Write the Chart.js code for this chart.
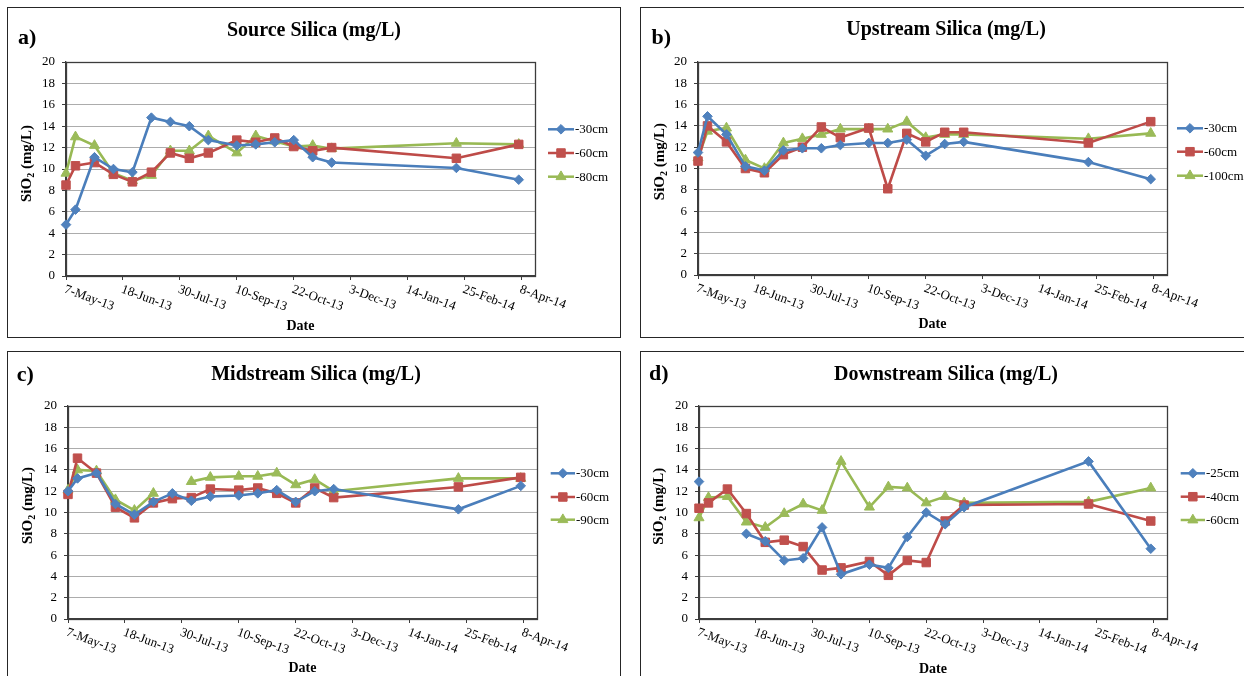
<!DOCTYPE html>
<html>
<head>
<meta charset="utf-8">
<script src="https://cdn.jsdelivr.net/npm/chart.js@4.4.1/dist/chart.umd.min.js"></script>
<style>
html,body{margin:0;padding:0;background:#fff;width:1244px;height:676px;overflow:hidden;}
.panel{position:absolute;}
canvas{display:block;}
</style>
</head>
<body>
<div class="panel" style="left:7px;top:7px;"><canvas id="cA" width="614" height="331"></canvas></div>
<div class="panel" style="left:640px;top:7px;"><canvas id="cB" width="606" height="331"></canvas></div>
<div class="panel" style="left:7px;top:351px;"><canvas id="cC" width="614" height="330"></canvas></div>
<div class="panel" style="left:640px;top:351px;"><canvas id="cD" width="606" height="330"></canvas></div>
<script>
// ---------- data ----------
const sampleDates = ['2013-05-07','2013-05-14','2013-05-28','2013-06-11','2013-06-25','2013-07-09','2013-07-23',
  '2013-08-06','2013-08-20','2013-09-10','2013-09-24','2013-10-08','2013-10-22','2013-11-05','2013-11-19',
  '2014-02-19','2014-04-06'];
const axisStartDate = '2013-05-07';
const axisEndDate = '2014-04-18';
const tickDates = ['2013-05-07','2013-06-18','2013-07-30','2013-09-10','2013-10-22','2013-12-03','2014-01-14','2014-02-25','2014-04-08'];
const tickLabels = ['7-May-13','18-Jun-13','30-Jul-13','10-Sep-13','22-Oct-13','3-Dec-13','14-Jan-14','25-Feb-14','8-Apr-14'];
const yMin = 0, yMax = 20, yStep = 2;

const sourceLabels = ['-30cm','-60cm','-80cm'];
const source30 = [4.8, 6.2, 11.1, 10.0, 9.7, 14.8, 14.4, 14.0, 12.7, 12.2, 12.3, 12.5, 12.7, 11.1, 10.6, 10.1, 9.0];
const source60 = [8.5, 10.3, 10.6, 9.5, 8.8, 9.7, 11.5, 11.0, 11.5, 12.7, 12.5, 12.9, 12.1, 11.7, 12.0, 11.0, 12.3];
const source80 = [9.6, 13.0, 12.2, 9.6, 8.9, 9.4, 11.7, 11.7, 13.1, 11.5, 13.1, 12.6, 12.1, 12.2, 11.9, 12.4, 12.3];

const upLabels = ['-30cm','-60cm','-100cm'];
const up30  = [11.5, 14.9, 13.2, 10.2, 9.8, 11.7, 11.9, 11.9, 12.2, 12.4, 12.4, 12.7, 11.2, 12.3, 12.5, 10.6, 9.0];
const up60  = [10.7, 14.0, 12.5, 10.0, 9.6, 11.3, 12.0, 13.9, 12.9, 13.8, 8.1, 13.3, 12.5, 13.4, 13.4, 12.4, 14.4];
const up100 = [11.0, 13.5, 13.8, 10.8, 10.0, 12.4, 12.8, 13.2, 13.7, 13.7, 13.7, 14.4, 12.9, 13.2, 13.2, 12.8, 13.3];

const midLabels = ['-30cm','-60cm','-90cm'];
const mid30 = [12.0, 13.2, 13.7, 10.8, 9.8, 11.0, 11.8, 11.1, 11.5, 11.6, 11.8, 12.1, 11.0, 12.0, 12.2, 10.3, 12.5];
const mid60 = [11.7, 15.1, 13.7, 10.5, 9.5, 10.9, 11.3, 11.4, 12.2, 12.1, 12.3, 11.8, 10.9, 12.3, 11.4, 12.4, 13.3];
const mid90 = [12.1, 14.0, 13.9, 11.2, 10.2, 11.8, null, 12.9, 13.3, 13.4, 13.4, 13.7, 12.6, 13.1, 12.0, 13.2, 13.2];

const downLabels = ['-25cm','-40cm','-60cm'];
const down25 = [12.9, null, null, 8.0, 7.3, 5.5, 5.7, 8.6, 4.2, 5.1, 4.8, 7.7, 10.0, 8.9, 10.5, 14.8, 6.6];
const down40 = [10.4, 10.9, 12.2, 9.9, 7.2, 7.4, 6.8, 4.6, 4.8, 5.4, 4.1, 5.5, 5.3, 9.2, 10.7, 10.8, 9.2];
const down60 = [9.5, 11.4, 11.5, 9.1, 8.6, 9.9, 10.8, 10.2, 14.8, 10.5, 12.4, 12.3, 10.9, 11.5, 10.9, 11.0, 12.3];

// ---------- helpers ----------
const SERIF = "'Liberation Serif','Times New Roman',serif";
function dayNum(iso){ const p = iso.split('-').map(Number); return Date.UTC(p[0], p[1]-1, p[2]) / 86400000; }
const t0 = dayNum(axisStartDate);
const xDays = sampleDates.map(s => dayNum(s) - t0);
const tickDays = tickDates.map(s => dayNum(s) - t0);
const xMaxDays = dayNum(axisEndDate) - t0;

const seriesStyles = [
  {line:'#4A7EBB', fill:'#4F81BD', shape:'rectRot', r:4.8},
  {line:'#BE4B48', fill:'#C0504D', shape:'rect', r:6.0},
  {line:'#98B954', fill:'#9BBB59', shape:'triangle', r:5.8}
];

function drawMarker(ctx, shape, r, x, y, fill){
  ctx.save();
  ctx.fillStyle = fill; ctx.strokeStyle = fill; ctx.lineWidth = 1;
  ctx.beginPath();
  if (shape === 'rectRot') {
    ctx.moveTo(x, y - r); ctx.lineTo(x + r, y); ctx.lineTo(x, y + r); ctx.lineTo(x - r, y);
  } else if (shape === 'rect') {
    const s = r * Math.SQRT1_2; ctx.rect(x - s, y - s, 2*s, 2*s);
  } else {
    const a = Math.PI/6;
    ctx.moveTo(x, y - r); ctx.lineTo(x + r*Math.cos(a), y + r*Math.sin(a)); ctx.lineTo(x - r*Math.cos(a), y + r*Math.sin(a));
  }
  ctx.closePath(); ctx.fill(); ctx.stroke();
  ctx.restore();
}

const decor = {
  id: 'decor',
  beforeDraw(chart, args, o){
    const ctx = chart.ctx;
    ctx.save();
    ctx.fillStyle = '#fff'; ctx.fillRect(0, 0, chart.width, chart.height);
    ctx.strokeStyle = '#262626'; ctx.lineWidth = 1;
    ctx.strokeRect(0.5, 0.5, chart.width - 1, chart.height - 1);
    ctx.restore();
  },
  beforeDatasetsDraw(chart){
    const a = chart.chartArea, ctx = chart.ctx;
    ctx.save();
    ctx.strokeStyle = '#3c3c3c'; ctx.lineWidth = 1.3;
    ctx.strokeRect(Math.round(a.left) + 0.5, Math.round(a.top) + 0.5, Math.round(a.right - a.left), Math.round(a.bottom - a.top));
    ctx.restore();
  },
  afterDraw(chart, args, o){
    const ctx = chart.ctx, a = chart.chartArea, xs = chart.scales.x;
    ctx.save();
    ctx.fillStyle = '#000';
    // title
    ctx.font = 'bold 20px ' + SERIF; ctx.textAlign = 'center'; ctx.textBaseline = 'alphabetic';
    ctx.fillText(o.title, o.titleX, o.titleY);
    // panel letter
    ctx.font = 'bold 22px ' + SERIF; ctx.textAlign = 'left';
    ctx.fillText(o.letter, o.letterX, o.letterY);
    // x axis title
    ctx.font = 'bold 14px ' + SERIF; ctx.textAlign = 'center';
    ctx.fillText('Date', (a.left + a.right) / 2, o.dateY);
    // y axis title with subscript
    ctx.save();
    ctx.translate(o.yTitleX, o.yTitleY);
    ctx.rotate(-Math.PI / 2);
    ctx.textAlign = 'left';
    const f1 = 'bold 15px ' + SERIF, f2 = 'bold 10px ' + SERIF;
    ctx.font = f1; const w1 = ctx.measureText('SiO').width, w3 = ctx.measureText(' (mg/L)').width;
    ctx.font = f2; const w2 = ctx.measureText('2').width;
    let sx = -(w1 + w2 + w3) / 2;
    ctx.font = f1; ctx.fillText('SiO', sx, 0); sx += w1;
    ctx.font = f2; ctx.fillText('2', sx, 3); sx += w2;
    ctx.font = f1; ctx.fillText(' (mg/L)', sx, 0);
    ctx.restore();
    // x tick labels (rotated clockwise)
    ctx.font = '13px ' + SERIF; ctx.textAlign = 'left'; ctx.textBaseline = 'top';
    tickDays.forEach((d, i) => {
      const px = xs.getPixelForValue(d);
      ctx.save();
      ctx.translate(px + 1, a.bottom + 7);
      ctx.rotate(20 * Math.PI / 180);
      ctx.fillText(tickLabels[i], 0, 0);
      ctx.restore();
    });
    // legend
    chart.data.datasets.forEach((ds, i) => {
      const st = seriesStyles[i];
      const y = o.legRows[i];
      ctx.strokeStyle = st.line; ctx.lineWidth = 2.5;
      ctx.beginPath(); ctx.moveTo(o.legX0, y); ctx.lineTo(o.legTextX - 1, y); ctx.stroke();
      drawMarker(ctx, st.shape, st.r, (o.legX0 + o.legTextX - 1) / 2, y, st.fill);
      ctx.fillStyle = '#000'; ctx.font = '13px ' + SERIF; ctx.textAlign = 'left'; ctx.textBaseline = 'middle';
      ctx.fillText(ds.label, o.legTextX, y + 0.5);
    });
    ctx.restore();
  }
};

function makePanel(id, labels, seriesList, p){
  const canvas = document.getElementById(id);
  const W = canvas.width, H = canvas.height;
  const datasets = seriesList.map((vals, i) => {
    const st = seriesStyles[i];
    return {
      label: labels[i],
      data: xDays.map((x, k) => ({x: x, y: vals[k]})),
      borderColor: st.line, backgroundColor: st.fill,
      pointBackgroundColor: st.fill, pointBorderColor: st.fill,
      pointStyle: st.shape, pointRadius: st.r, pointBorderWidth: 1,
      borderWidth: 2.6, tension: 0, spanGaps: false, clip: false
    };
  });
  return new Chart(canvas, {
    type: 'line',
    data: {datasets},
    plugins: [decor],
    options: {
      responsive: false, animation: false, devicePixelRatio: 1,
      layout: {padding: {left: 0, top: p.top, right: W - p.right, bottom: 0}},
      plugins: {
        legend: {display: false}, tooltip: {enabled: false},
        decor: p
      },
      scales: {
        x: {
          type: 'linear', min: 0, max: xMaxDays,
          afterBuildTicks: s => { s.ticks = tickDays.map(v => ({value: v})); },
          afterFit: s => { s.height = H - p.bottom; },
          ticks: {display: false},
          grid: {display: true, drawOnChartArea: false, drawTicks: true, tickLength: 4, color: '#3c3c3c', tickColor: '#3c3c3c'},
          border: {display: true, color: '#3c3c3c', width: 1.3}
        },
        y: {
          min: yMin, max: yMax,
          afterFit: s => { s.width = p.left; },
          ticks: {stepSize: yStep, color: '#000', padding: 7, font: {family: SERIF, size: 13}},
          grid: {color: '#acacac', lineWidth: 1, tickLength: 4, tickColor: '#3c3c3c'},
          border: {display: true, color: '#3c3c3c', width: 1.3}
        }
      }
    }
  });
}

makePanel('cA', sourceLabels, [source30, source60, source80], {
  left: 59, top: 55, right: 528, bottom: 269,
  title: 'Source Silica (mg/L)', titleX: 307, titleY: 29,
  letter: 'a)', letterX: 11, letterY: 37,
  dateY: 323, yTitleX: 23.5, yTitleY: 156.5,
  legX0: 541, legTextX: 568, legRows: [122.3, 146, 169.7]
});
makePanel('cB', upLabels, [up30, up60, up100], {
  left: 58, top: 55, right: 527, bottom: 268,
  title: 'Upstream Silica (mg/L)', titleX: 306, titleY: 28,
  letter: 'b)', letterX: 11.5, letterY: 37.3,
  dateY: 321, yTitleX: 23.5, yTitleY: 154.6,
  legX0: 537, legTextX: 564, legRows: [121.3, 144.7, 168.7]
});
makePanel('cC', midLabels, [mid30, mid60, mid90], {
  left: 61, top: 55, right: 530, bottom: 268,
  title: 'Midstream Silica (mg/L)', titleX: 309, titleY: 29,
  letter: 'c)', letterX: 9.7, letterY: 29.6,
  dateY: 320.5, yTitleX: 24.5, yTitleY: 154.5,
  legX0: 543.7, legTextX: 569, legRows: [122.3, 146, 168.7]
});
makePanel('cD', downLabels, [down25, down40, down60], {
  left: 59, top: 55, right: 527, bottom: 268,
  title: 'Downstream Silica (mg/L)', titleX: 306, titleY: 29,
  letter: 'd)', letterX: 9, letterY: 29.3,
  dateY: 322, yTitleX: 22.5, yTitleY: 155.3,
  legX0: 540.7, legTextX: 566, legRows: [122.3, 145.7, 169]
});
</script>
</body>
</html>
